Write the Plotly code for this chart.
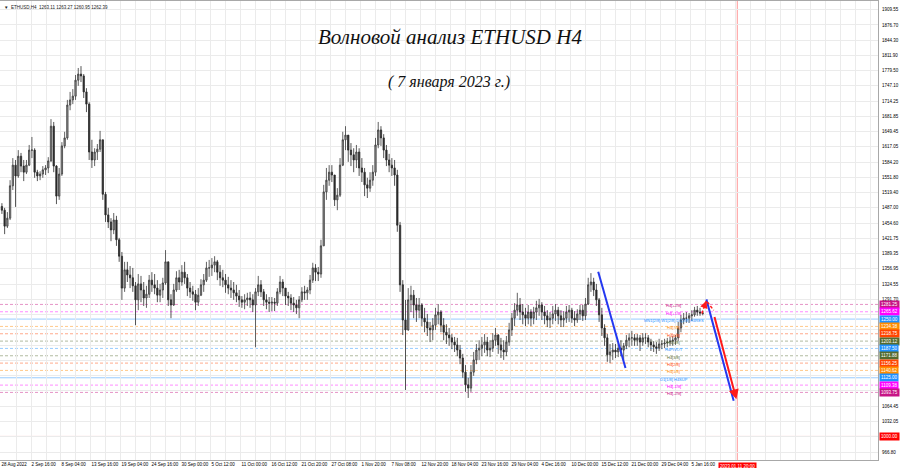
import plotly.graph_objects as go

# ---------------- data (12h bars) ----------------
first_open = 1490.0
highs = [
    1497, 1487, 1478, 1546, 1593, 1589, 1610, 1604, 1589, 1589, 1621,
    1638, 1614, 1568, 1565, 1576, 1578, 1595, 1676, 1670, 1578, 1572,
    1627, 1649, 1717, 1734, 1740, 1770, 1785, 1789, 1772, 1742, 1712,
    1632, 1614, 1623, 1651, 1632, 1521, 1487, 1465, 1476, 1470, 1423,
    1393, 1372, 1372, 1363, 1359, 1329, 1346, 1342, 1329, 1321, 1344,
    1350, 1346, 1333, 1325, 1338, 1397, 1372, 1303, 1325, 1352, 1355,
    1365, 1372, 1346, 1329, 1321, 1312, 1316, 1335, 1346, 1372, 1376,
    1380, 1384, 1376, 1365, 1355, 1346, 1340, 1333, 1329, 1323, 1312,
    1299, 1303, 1306, 1308, 1303, 1316, 1342, 1333, 1314, 1303, 1297,
    1297, 1295, 1316, 1342, 1335, 1314, 1308, 1303, 1297, 1291, 1299,
    1318, 1321, 1318, 1344, 1370, 1367, 1361, 1419, 1536, 1572, 1578,
    1578, 1551, 1529, 1593, 1649, 1661, 1636, 1625, 1614, 1621, 1614,
    1593, 1572, 1551, 1563, 1578, 1636, 1670, 1661, 1644, 1621, 1602,
    1593, 1589, 1568, 1457, 1333, 1291, 1316, 1321, 1312, 1295, 1295,
    1284, 1274, 1261, 1244, 1252, 1274, 1282, 1269, 1252, 1239, 1231,
    1218, 1212, 1210, 1195, 1176, 1152, 1125, 1152, 1180, 1197, 1205,
    1212, 1218, 1212, 1205, 1220, 1231, 1218, 1210, 1205, 1214, 1242,
    1263, 1284, 1306, 1295, 1282, 1274, 1280, 1271, 1276, 1289, 1293,
    1286, 1278, 1269, 1265, 1278, 1282, 1276, 1269, 1267, 1278, 1280,
    1274, 1267, 1271, 1280, 1280, 1295, 1338, 1348, 1338, 1325, 1295,
    1274, 1239, 1218, 1197, 1199, 1197, 1201, 1205, 1199, 1216, 1220,
    1225, 1218, 1218, 1216, 1220, 1220, 1216, 1208, 1203, 1201, 1208,
    1205, 1208, 1210, 1212, 1214, 1216, 1244, 1259, 1263, 1265, 1263,
    1269, 1276, 1278, 1274, 1268,
]
lows = [
    1474, 1431, 1444, 1461, 1525, 1489, 1551, 1563, 1544, 1559, 1576,
    1593, 1551, 1544, 1546, 1551, 1557, 1561, 1585, 1563, 1495, 1504,
    1555, 1614, 1632, 1695, 1708, 1717, 1747, 1755, 1721, 1691, 1589,
    1572, 1576, 1589, 1606, 1504, 1457, 1444, 1416, 1431, 1406, 1372,
    1291, 1308, 1329, 1316, 1308, 1237, 1269, 1286, 1278, 1274, 1295,
    1308, 1303, 1286, 1286, 1295, 1323, 1278, 1252, 1278, 1308, 1312,
    1321, 1325, 1299, 1295, 1289, 1269, 1278, 1299, 1308, 1329, 1340,
    1342, 1350, 1333, 1321, 1318, 1306, 1303, 1295, 1291, 1286, 1276,
    1274, 1271, 1278, 1274, 1265, 1190, 1299, 1297, 1278, 1271, 1265,
    1267, 1267, 1278, 1303, 1299, 1280, 1278, 1269, 1265, 1261, 1252,
    1286, 1291, 1291, 1303, 1327, 1331, 1331, 1338, 1406, 1504, 1534,
    1542, 1491, 1482, 1510, 1576, 1610, 1585, 1576, 1563, 1572, 1555,
    1542, 1512, 1508, 1521, 1534, 1555, 1614, 1619, 1593, 1576, 1563,
    1555, 1534, 1436, 1308, 1216, 1099, 1225, 1265, 1252, 1244, 1252,
    1235, 1222, 1214, 1201, 1205, 1227, 1239, 1222, 1205, 1197, 1193,
    1186, 1180, 1171, 1154, 1125, 1095, 1082, 1095, 1129, 1154, 1163,
    1171, 1178, 1171, 1169, 1180, 1193, 1176, 1167, 1163, 1171, 1193,
    1214, 1235, 1257, 1248, 1239, 1235, 1239, 1235, 1239, 1248, 1257,
    1248, 1239, 1233, 1231, 1239, 1246, 1239, 1233, 1233, 1242, 1244,
    1242, 1235, 1242, 1248, 1246, 1248, 1280, 1308, 1299, 1278, 1244,
    1214, 1193, 1159, 1156, 1163, 1167, 1169, 1171, 1163, 1186, 1190,
    1193, 1193, 1193, 1182, 1193, 1197, 1190, 1182, 1180, 1176, 1182,
    1186, 1188, 1190, 1193, 1193, 1195, 1203, 1222, 1239, 1242, 1242,
    1246, 1255, 1257, 1257, 1258,
]
closes = [
    1482, 1448, 1465, 1534, 1578, 1555, 1597, 1576, 1563, 1578, 1610,
    1610, 1563, 1555, 1559, 1568, 1572, 1587, 1661, 1576, 1512, 1559,
    1619, 1636, 1706, 1717, 1725, 1759, 1772, 1768, 1734, 1708, 1606,
    1589, 1606, 1612, 1632, 1516, 1472, 1457, 1440, 1461, 1419, 1384,
    1316, 1355, 1344, 1338, 1321, 1291, 1325, 1312, 1295, 1303, 1333,
    1323, 1316, 1301, 1312, 1327, 1372, 1291, 1280, 1312, 1338, 1329,
    1350, 1338, 1316, 1308, 1303, 1286, 1301, 1323, 1333, 1359, 1359,
    1365, 1372, 1350, 1338, 1333, 1323, 1316, 1312, 1306, 1299, 1291,
    1286, 1291, 1295, 1291, 1280, 1308, 1323, 1308, 1291, 1286, 1284,
    1286, 1284, 1308, 1329, 1316, 1299, 1295, 1284, 1280, 1274, 1291,
    1308, 1306, 1312, 1333, 1359, 1350, 1346, 1406, 1521, 1546, 1563,
    1557, 1504, 1514, 1578, 1632, 1642, 1610, 1600, 1589, 1606, 1572,
    1563, 1536, 1529, 1546, 1563, 1621, 1653, 1636, 1610, 1589, 1578,
    1572, 1557, 1450, 1323, 1248, 1227, 1291, 1301, 1280, 1269, 1280,
    1252, 1244, 1231, 1227, 1237, 1259, 1265, 1237, 1222, 1216, 1210,
    1201, 1195, 1184, 1167, 1137, 1110, 1103, 1137, 1163, 1184, 1188,
    1195, 1201, 1184, 1188, 1205, 1216, 1195, 1184, 1180, 1201, 1227,
    1252, 1269, 1280, 1265, 1259, 1252, 1265, 1252, 1265, 1274, 1280,
    1265, 1257, 1248, 1252, 1261, 1269, 1257, 1248, 1252, 1265, 1269,
    1252, 1248, 1261, 1269, 1257, 1282, 1323, 1329, 1312, 1291, 1259,
    1231, 1210, 1174, 1180, 1184, 1180, 1188, 1184, 1193, 1205, 1210,
    1210, 1205, 1210, 1201, 1210, 1210, 1201, 1195, 1191, 1188, 1197,
    1197, 1199, 1201, 1203, 1205, 1210, 1231, 1248, 1252, 1252, 1257,
    1259, 1269, 1265, 1263, 1262.39,
]

# x-axis labels (every 33 H4 bars)
x_tick_labels = ["28 Aug 2022", "2 Sep 16:00", "8 Sep 04:00", "13 Sep 16:00", "19 Sep 04:00",
                 "24 Sep 16:00", "30 Sep 00:00", "5 Oct 12:00", "11 Oct 00:00", "16 Oct 12:00",
                 "21 Oct 20:00", "27 Oct 08:00", "1 Nov 20:00", "7 Nov 08:00", "12 Nov 20:00",
                 "18 Nov 04:00", "23 Nov 16:00", "29 Nov 04:00", "4 Dec 16:00", "10 Dec 00:00",
                 "15 Dec 12:00", "21 Dec 00:00", "29 Dec 04:00", "5 Jan 16:00"]
future_label = "2023.01.11 20:00"
future_bar = 810

# price axis ticks
y_ticks = [1909.55, 1876.70, 1844.30, 1811.90, 1779.50, 1747.10, 1714.25, 1681.85, 1649.45,
           1617.05, 1584.20, 1551.80, 1519.40, 1487.00, 1454.60, 1421.75, 1389.35, 1356.95,
           1324.55, 1291.70, 1259.30, 1226.90, 1194.50, 1161.65, 1129.25, 1096.85, 1064.45,
           1032.05, 999.65, 966.80]
y_hidden = [1259.30, 1226.90, 1194.50, 1161.65, 1129.25, 1096.85, 999.65]

# Murrey math levels
levels = [1281.25, 1265.62, 1250.00, 1234.38, 1218.75, 1203.12, 1187.50, 1171.88,
          1156.25, 1140.62, 1125.00, 1109.38, 1093.75]
level_colors = ["#c71585", "#ff00ff", "#1e90ff", "#ff8c00", "#ff4500", "#556b2f", "#1e90ff",
                "#556b2f", "#ff4500", "#ff8c00", "#1e90ff", "#ff00ff", "#c71585"]
level_names = ["H4[+2/8]", "H4[+1/8]", "MN1[2/8] W1[2/8] D1[2/8] H4RES", "H4[7/8]", "H4[6/8]",
               "H4[5/8]", "H4PIVOT", "H4[3/8]", "H4[2/8]", "H4[1/8]", "D1[1/8] H4SUP",
               "H4[-1/8]", "H4[-2/8]"]
level_solid = [False, False, True, False, False, False, False, False, False, False, True, False, False]
round_level = 1000.00

# wave projections (H4 bar index, price)
wave_blue1_bar, wave_blue1_price = [657, 687], [1351, 1146]
wave_blue2_bar, wave_blue2_price = [776, 806], [1292, 1076]
wave_red_bar, wave_red_price = [782, 809], [1276, 1079]
wave_reddash_bar, wave_reddash_price = [771, 776, 784], [1262, 1289, 1269]

header = "▼  ETHUSD,H4  1263.11 1263.27 1260.95 1262.39"
title1 = "Волновой анализ ETHUSD H4"
title2 = "( 7 января 2023 г.)"

# ---------------- figure ----------------
n = len(closes)
bar_x = [3 * j + 1 for j in range(n)]
opens = [first_open] + closes[:-1]

FONT = "Liberation Sans"
GRID = "#ebebeb"

fig = go.Figure()
fig.add_trace(go.Candlestick(
    x=bar_x, open=opens, high=highs, low=lows, close=closes,
    increasing=dict(line=dict(color="#3a3a3a", width=0.8), fillcolor="#9a9a9a"),
    decreasing=dict(line=dict(color="#2a2a2a", width=0.8), fillcolor="#2a2a2a"),
    whiskerwidth=0, showlegend=False, hoverinfo="skip"))

# level lines
for lvl, col, solid in zip(levels, level_colors, level_solid):
    fig.add_shape(type="line", xref="paper", x0=0, x1=1, yref="y", y0=lvl, y1=lvl,
                  line=dict(color=col, width=1, dash="solid" if solid else "3px,2px"),
                  opacity=0.45, layer="below")
fig.add_shape(type="line", xref="paper", x0=0, x1=1, yref="y", y0=round_level, y1=round_level,
              line=dict(color="#ff0000", width=1), opacity=0.4, layer="below")
fig.add_shape(type="line", xref="x", x0=future_bar, x1=future_bar, yref="paper", y0=0, y1=1,
              line=dict(color="#ff0000", width=1), opacity=0.4, layer="below")

# wave lines
fig.add_trace(go.Scatter(x=wave_blue1_bar, y=wave_blue1_price, mode="lines",
                         line=dict(color="#2438f0", width=2), showlegend=False, hoverinfo="skip"))
fig.add_trace(go.Scatter(x=wave_blue2_bar, y=wave_blue2_price, mode="lines",
                         line=dict(color="#2438f0", width=2), showlegend=False, hoverinfo="skip"))
fig.add_trace(go.Scatter(x=wave_reddash_bar, y=wave_reddash_price, mode="lines",
                         line=dict(color="#ff1a1a", width=1.5, dash="3px,2px"),
                         showlegend=False, hoverinfo="skip"))

annotations = []
annotations.append(dict(x=wave_red_bar[1], y=wave_red_price[1], xref="x", yref="y",
                        ax=wave_red_bar[0], ay=wave_red_price[0], axref="x", ayref="y",
                        text=" ", showarrow=True, arrowhead=2, arrowsize=1, arrowwidth=2,
                        arrowcolor="#ff1a1a"))
annotations.append(dict(x=wave_reddash_bar[1], y=wave_reddash_price[1], xref="x", yref="y",
                        ax=wave_reddash_bar[0], ay=wave_reddash_price[0], axref="x", ayref="y",
                        text=" ", showarrow=True, arrowhead=2, arrowsize=1, arrowwidth=1.5,
                        arrowcolor="#ff1a1a"))

# level names inside chart
for lvl, col, name in zip(levels, level_colors, level_names):
    annotations.append(dict(x=740, y=lvl, xref="x", yref="y", text=name, showarrow=False,
                            xanchor="center", yanchor="middle", yshift=-1.5,
                            font=dict(family=FONT, size=4, color=col)))

# price boxes on the right axis
for lvl, col in zip(levels, level_colors):
    annotations.append(dict(x=1, y=lvl, xref="paper", yref="y", text=f"{lvl:.2f}",
                            showarrow=False, xanchor="left", yanchor="middle", xshift=1,
                            bgcolor=col, borderpad=1,
                            font=dict(family=FONT, size=4.5, color="#ffffff")))
annotations.append(dict(x=1, y=round_level, xref="paper", yref="y", text=f"{round_level:.2f}",
                        showarrow=False, xanchor="left", yanchor="middle", xshift=1,
                        bgcolor="#ff0000", borderpad=1,
                        font=dict(family=FONT, size=4.5, color="#ffffff")))
annotations.append(dict(x=future_bar, y=0, xref="x", yref="paper", text=future_label,
                        showarrow=False, xanchor="center", yanchor="top", yshift=-1.5,
                        bgcolor="#ff0000", borderpad=1,
                        font=dict(family=FONT, size=4.5, color="#ffffff")))

# header and titles
annotations.append(dict(x=0, y=1, xref="paper", yref="paper", text=header, showarrow=False,
                        xanchor="left", yanchor="top", xshift=2, yshift=-2,
                        font=dict(family=FONT, size=4.5, color="#202020")))
annotations.append(dict(x=0.5125, y=0.921, xref="paper", yref="paper", text=title1,
                        showarrow=False, xanchor="center", yanchor="middle",
                        font=dict(family="Liberation Serif", size=21, color="#111111",
                                  style="italic")))
annotations.append(dict(x=0.5114, y=0.8235, xref="paper", yref="paper", text=title2,
                        showarrow=False, xanchor="center", yanchor="middle",
                        font=dict(family="Liberation Serif", size=16, color="#111111",
                                  style="italic")))

y_text = ["" if v in y_hidden else f"{v:.2f}" for v in y_ticks]

fig.update_layout(
    width=900, height=468,
    margin=dict(l=0, r=22, t=1, b=8, autoexpand=False),
    paper_bgcolor="white", plot_bgcolor="white",
    showlegend=False,
    annotations=annotations,
    xaxis=dict(range=[-1.1, 964.8], tickmode="array",
               tickvals=[33 * k for k in range(len(x_tick_labels))], ticktext=x_tick_labels,
               ticklabelposition="outside right", tickangle=0, automargin=False,
               ticks="", showgrid=True, gridcolor=GRID, gridwidth=1,
               minor=dict(tickmode="linear", tick0=0, dtick=16.5, showgrid=True,
                          gridcolor=GRID, ticks=""),
               showline=True, linecolor="#a8a8a8", linewidth=1, mirror=True, zeroline=False,
               rangeslider=dict(visible=False), fixedrange=True,
               tickfont=dict(family=FONT, size=4.5, color="#000000")),
    yaxis=dict(side="right", range=[949.8, 1927.7], tickmode="array", tickvals=y_ticks,
               ticktext=y_text, ticks="", showgrid=True, gridcolor=GRID, gridwidth=1,
               showline=True, linecolor="#a8a8a8", linewidth=1, mirror=True, zeroline=False,
               ticklabelstandoff=2, fixedrange=True, automargin=False,
               tickfont=dict(family=FONT, size=4.5, color="#000000")),
)

fig.write_html("out.html", config={"displayModeBar": False},
               post_script="document.body.style.margin='0';")
